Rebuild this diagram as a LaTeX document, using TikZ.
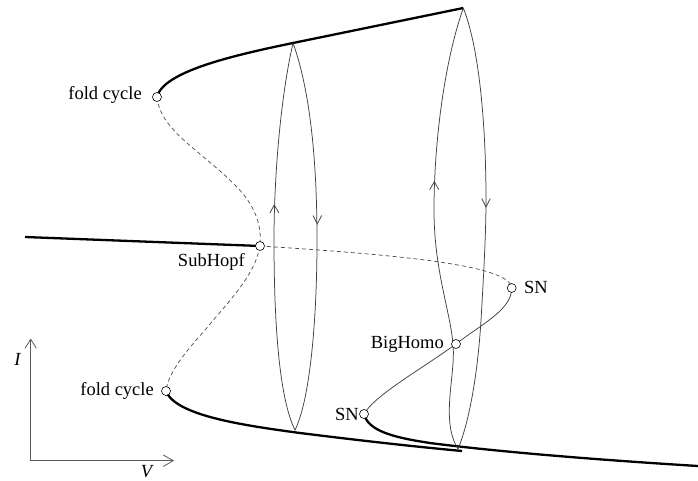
\documentclass[tikz,border=0pt]{standalone}
\usepackage{fontspec}
\setmainfont{Liberation Serif}
\begin{document}
\begin{tikzpicture}[x=1pt,y=-1pt,
  thickbr/.style={line width=2.3pt, black},
  unst/.style={line width=0.7pt, black!70, dash pattern=on 4pt off 3pt},
  orbit/.style={line width=0.75pt, black!75},
  axisline/.style={line width=0.8pt, black!65},
  pnt/.style={circle, draw, fill=white, line width=0.6pt, minimum size=9pt, inner sep=0pt},
  lbl/.style={font=\fontsize{18.5}{20}\selectfont, inner sep=0pt},
  uparr/.pic={\draw[orbit] (-4.5,8) -- (0,0) -- (4.5,8);},
  dnarr/.pic={\draw[orbit] (-4.3,-8.5) -- (0,0) -- (4.3,-8.5);}
]
\useasboundingbox (0,0) rectangle (698,481);

% key points
\coordinate (fcu) at (157,97);
\coordinate (shopf) at (260,246);
\coordinate (fcl) at (166,391);
\coordinate (snr) at (511.7,288);
\coordinate (bh) at (456,344);
\coordinate (snl) at (364,414);
\coordinate (top1) at (293,43);
\coordinate (top2) at (463.3,8);
\coordinate (lstart) at (25,237);
\coordinate (lend) at (462,451);
\coordinate (rend) at (698,466);
\coordinate (lb) at (295,430);
\coordinate (rb) at (458,449);

% stable upper branch of cycles
\draw[thickbr] (fcu) .. controls (163,72) and (230,56) .. (top1) -- (top2);
% unstable cycles
\draw[unst] (fcu) .. controls (160,130) and (200,150) .. (235,185)
  .. controls (255,205) and (262,225) .. (shopf);
\draw[unst] (shopf) .. controls (255,275) and (230,300) .. (205,330)
  .. controls (180,358) and (168,375) .. (fcl);
% stable rest state (left)
\draw[thickbr] (lstart) -- (shopf);
% lower stable branches
\draw[thickbr] (fcl) .. controls (175,415) and (240,425) .. (300,433)
  .. controls (380,443) and (430,448) .. (lend);
\draw[thickbr] (snl) .. controls (368,430) and (390,437) .. (430,443)
  .. controls (500,452) and (600,460) .. (rend);
% unstable equilibria
\draw[unst] (shopf) .. controls (400,255) and (510,265) .. (snr);
\draw[orbit] (snr) .. controls (512,310) and (480,325) .. (bh)
  .. controls (420,370) and (375,395) .. (snl);

% left orbit
\draw[orbit] (top1) .. controls (280,100) and (274,180) .. (274,240)
  .. controls (274,330) and (280,400) .. (lb)
  .. controls (310,400) and (317,320) .. (317,240)
  .. controls (317,160) and (310,90) .. (top1);
% right orbit
\draw[orbit] (top2) .. controls (445,60) and (434,140) .. (434,210)
  .. controls (434,270) and (450,310) .. (453,344)
  .. controls (456,375) and (440,420) .. (rb)
  .. controls (470,420) and (478,370) .. (481,320)
  .. controls (484,270) and (486,230) .. (486,200)
  .. controls (486,130) and (480,50) .. (top2);

% direction marks
\pic at (274.3,205) {uparr};
\pic at (317.3,224) {dnarr};
\pic at (434.3,181.7) {uparr};
\pic at (486,207) {dnarr};

% points
\node[pnt] (pfcu) at (fcu) {};
\node[pnt] (pshopf) at (shopf) {};
\node[pnt] (pfcl) at (fcl) {};
\node[pnt] (psnr) at (snr) {};
\node[pnt] (pbh) at (bh) {};
\node[pnt] (psnl) at (snl) {};

% labels
\node[lbl, anchor=base east] (lfcu) at (142,100) {fold cycle};
\node[lbl, anchor=base east] (lfcl) at (154,395) {fold cycle};
\node[lbl, anchor=base east] (lsh) at (245,266) {SubHopf};
\node[lbl, anchor=base east] (lbh) at (444,348) {BigHomo};
\node[lbl, anchor=base west] (lsnr) at (524,293) {SN};
\node[lbl, anchor=base east] (lsnl) at (359,420) {SN};

% axes
\coordinate (o) at (30.7,460.7);
\coordinate (iax) at (30.7,339.3);
\coordinate (vax) at (173.3,460.7);
\draw[axisline] (iax) -- (o) -- (vax);
\draw[axisline] (25,348.3) -- (iax) -- (36.4,348.3);
\draw[axisline] (163.3,455) -- (vax) -- (163.3,466.4);
\node[lbl, anchor=base] (li) at (17.5,365) {\itshape I};
\node[lbl, anchor=base] (lv) at (146.5,477) {\itshape V};
\end{tikzpicture}
\end{document}
